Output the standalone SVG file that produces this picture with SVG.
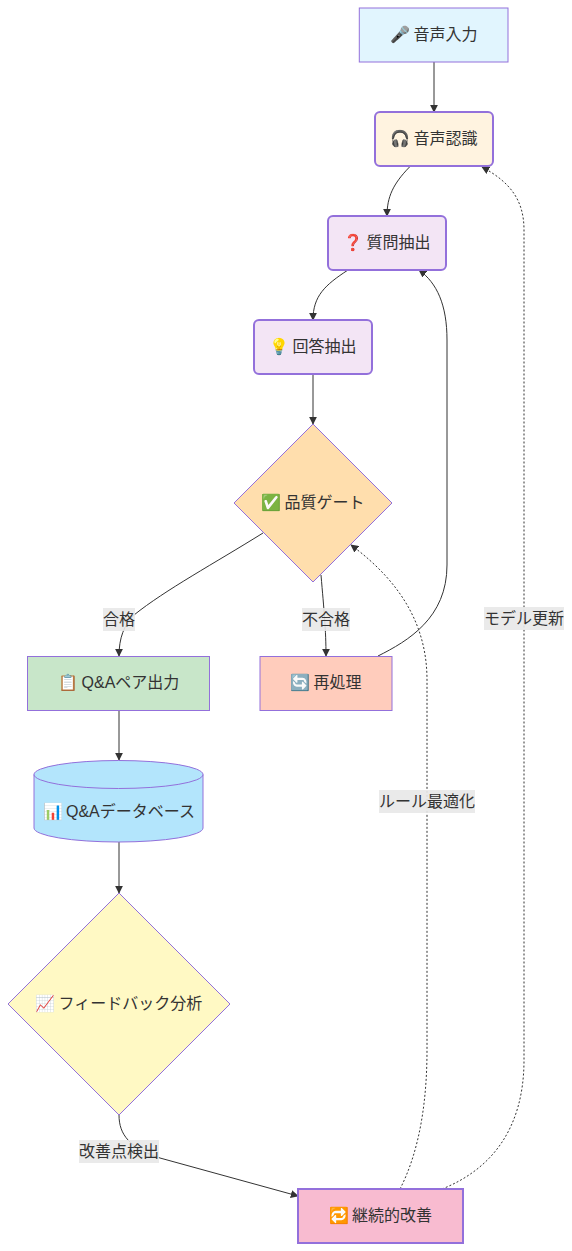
<svg xmlns="http://www.w3.org/2000/svg" width="572" height="1251" viewBox="0 0 572 1251">
<style>
text{font-family:"Liberation Sans","Noto Sans CJK JP","Noto Color Emoji",sans-serif;font-size:16px;fill:#333;text-anchor:middle;dominant-baseline:central}
.n text{word-spacing:-1.500px}
.s{stroke:#9370db;stroke-width:1px}
.t{stroke-width:2px}
.e{fill:none;stroke:#333;stroke-width:1px}
.d{stroke-dasharray:2 2}
.l{fill:#e8e8e8;opacity:.9}
</style>
<defs><marker id="a" viewBox="0 0 10 10" refX="9" refY="5" markerWidth="8" markerHeight="8" orient="auto-start-reverse" markerUnits="userSpaceOnUse"><path d="M0,0L10,5L0,10z" fill="#333"/></marker></defs>
<g id="connectors">
<path class="e" marker-end="url(#a)" d="M434,62V112"/>
<path class="e" marker-end="url(#a)" d="M409.500,167C393,184 387,197 387,216"/>
<path class="e" marker-end="url(#a)" d="M348,270C325,285 313,296 313,320"/>
<path class="e" marker-end="url(#a)" d="M313,374V424"/>
<path class="e" marker-end="url(#a)" d="M263,533C215,563 165,590 134,615C124,625 119,638 119,656"/>
<path class="e" marker-end="url(#a)" d="M321,575C324,610 326,630 326,656"/>
<path class="e" marker-end="url(#a)" d="M378,656C408,641 447,618 447,565V340C447,305 437,283 419,270"/>
<path class="e" marker-end="url(#a)" d="M119,710V760"/>
<path class="e" marker-end="url(#a)" d="M119,842V893"/>
<path class="e" marker-end="url(#a)" d="M119,1115C119,1135 130,1148 160,1158L298,1196"/>
<path class="e d" marker-end="url(#a)" d="M400,1189C420,1150 427,1100 427,1050V680C427,630 405,585 351,545"/>
<path class="e d" marker-end="url(#a)" d="M442,1189C490,1170 524,1130 524,1060V230C524,200 510,182 482,167"/>
</g>
<g id="labels">
<rect class="l" x="103" y="608" width="32" height="23"/><text x="119" y="619">合格</text>
<rect class="l" x="302" y="608" width="48" height="23"/><text x="326" y="619">不合格</text>
<rect class="l" x="379" y="790" width="96" height="23"/><text x="427" y="801">ルール最適化</text>
<rect class="l" x="484" y="607" width="80" height="23"/><text x="524" y="618">モデル更新</text>
<rect class="l" x="79" y="1140" width="80" height="23"/><text x="119" y="1151">改善点検出</text>
</g>
<g id="n1" class="n"><rect class="s" x="359.300" y="8" width="148.700" height="54" fill="#e1f5fe"/><text x="434" y="34">🎤 音声入力</text></g>
<g id="n2" class="n"><rect class="s t" x="375" y="112" width="118" height="54" rx="5" fill="#fff3e0"/><text x="434" y="138">🎧 音声認識</text></g>
<g id="n3" class="n"><rect class="s t" x="328" y="216" width="118" height="54" rx="5" fill="#f3e5f5"/><text x="387" y="242">❓ 質問抽出</text></g>
<g id="n4" class="n"><rect class="s t" x="254" y="320" width="118" height="54" rx="5" fill="#f3e5f5"/><text x="313" y="346">💡 回答抽出</text></g>
<g id="n5" class="n"><path class="s" d="M313,424L392,503L313,582L234,503Z" fill="#ffdead"/><text x="313" y="502">✅ 品質ゲート</text></g>
<g id="n6" class="n"><rect class="s" x="27.500" y="656.500" width="182" height="54" fill="#c8e6c9"/><text x="119" y="682">📋 Q&amp;Aペア出力</text></g>
<g id="n7" class="n"><rect class="s" x="260" y="656.500" width="132" height="54" fill="#ffccbc"/><text x="326" y="682">🔄 再処理</text></g>
<g id="n8" class="n"><path class="s" d="M34,774.500V828A84.500,14 0 0 0 203,828V774.500A84.500,14 0 0 0 34,774.500A84.500,14 0 0 0 203,774.500" fill="#b3e5fc"/><text x="119" y="811">📊 Q&amp;Aデータベース</text></g>
<g id="n9" class="n"><path class="s" d="M119,893L230,1004L119,1115L8,1004Z" fill="#fff9c4"/><text x="119" y="1003">📈 フィードバック分析</text></g>
<g id="n10" class="n"><rect class="s t" x="298" y="1189" width="165" height="54" fill="#f8bbd0"/><text x="380.500" y="1215">🔁 継続的改善</text></g>
</svg>
